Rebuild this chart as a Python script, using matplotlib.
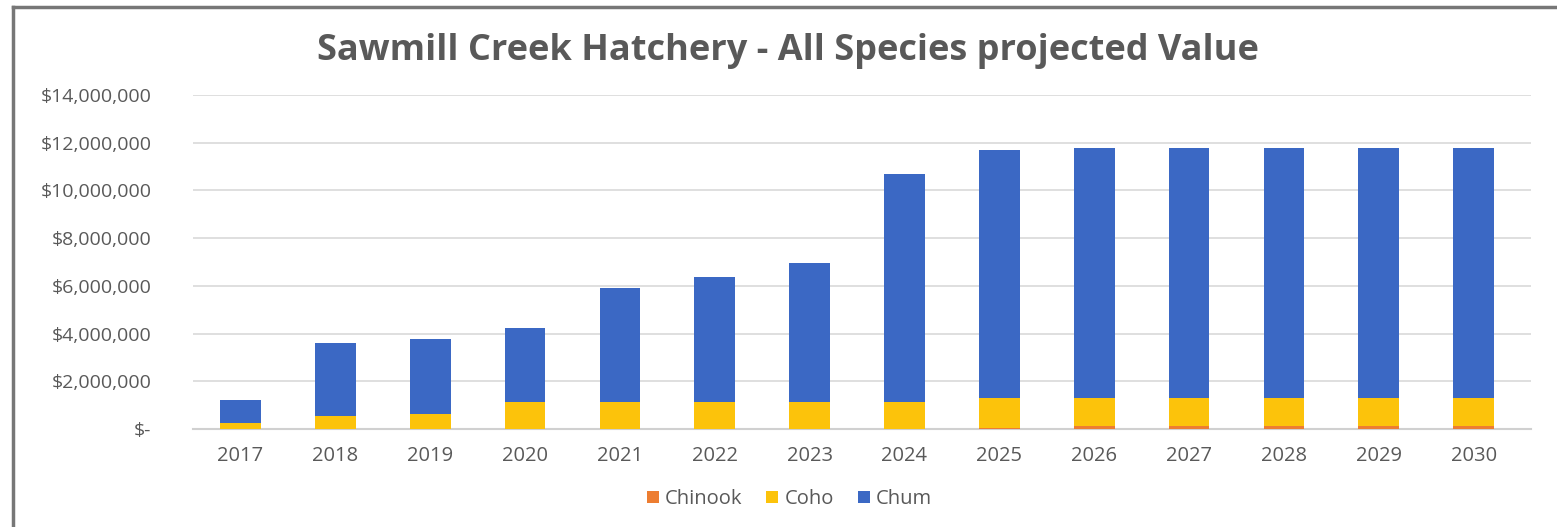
# Sawmill Creek Hatchery - stacked projected value by species
import numpy as np
import matplotlib.pyplot as plt
from matplotlib.lines import Line2D

years = ["2017", "2018", "2019", "2020", "2021", "2022", "2023",
         "2024", "2025", "2026", "2027", "2028", "2029", "2030"]

# values in dollars
chinook = [0, 0, 0, 0, 0, 0, 0, 0, 60000, 130000, 130000, 130000, 130000, 130000]
coho = [250000, 550000, 620000, 1120000, 1120000, 1120000, 1120000,
        1120000, 1230000, 1160000, 1160000, 1160000, 1160000, 1160000]
chum = [950000, 3050000, 3150000, 3110000, 4790000, 5250000, 5840000,
        9570000, 10400000, 10490000, 10490000, 10490000, 10490000, 10490000]

plt.rcParams['font.family'] = ['Open Sans', 'DejaVu Sans']
text_color = "#595959"

fig = plt.figure(figsize=(15.57, 5.27), dpi=100)
ax = fig.add_axes([0.124, 0.186, 0.859, 0.634])

x = np.arange(len(years))
w = 0.43
ax.bar(x, chinook, w, color="#ed7d31", label="Chinook", zorder=3)
ax.bar(x, coho, w, bottom=chinook, color="#fcc30b", label="Coho", zorder=3)
bottom_chum = np.array(chinook) + np.array(coho)
ax.bar(x, chum, w, bottom=bottom_chum, color="#3b68c4", label="Chum", zorder=3)

ax.set_xlim(-0.5, 13.6)
ax.set_ylim(0, 14000000)
ticks = np.arange(0, 14000001, 2000000)
ax.set_yticks(ticks)
ax.set_yticklabels(["$-"] + ["${:,.0f}".format(t) for t in ticks[1:]])
ax.set_xticks(x)
ax.set_xticklabels(years)
ax.tick_params(axis="both", length=0, colors=text_color)
ax.tick_params(axis="y", pad=30, labelsize=14)
ax.tick_params(axis="x", pad=12, labelsize=14.5)
ax.grid(axis="y", color="#d9d9d9", linewidth=1.2, zorder=0)
for s in ["top", "right", "left"]:
    ax.spines[s].set_visible(False)
ax.spines["bottom"].set_color("#d0d0d0")
ax.spines["bottom"].set_linewidth(1.5)

fig.text(0.506, 0.904, "Sawmill Creek Hatchery - All Species projected Value",
         ha="center", va="center", fontsize=26, fontweight="bold", color=text_color)

handles, labels = ax.get_legend_handles_labels()
fig.legend(handles, labels, loc="center", bbox_to_anchor=(0.507, 0.053), ncol=3,
           frameon=False, fontsize=14.5, labelcolor=text_color, handlelength=0.6,
           handleheight=0.6, handletextpad=0.3, columnspacing=1.2)

# outer frame (left and top edges visible)
fig.add_artist(Line2D([0.0085, 0.0085], [0, 0.987], color="#777777", linewidth=2.5))
fig.add_artist(Line2D([0.0085, 1.0], [0.987, 0.987], color="#777777", linewidth=2.5))

fig.savefig("out.png", dpi=100, facecolor="white")
